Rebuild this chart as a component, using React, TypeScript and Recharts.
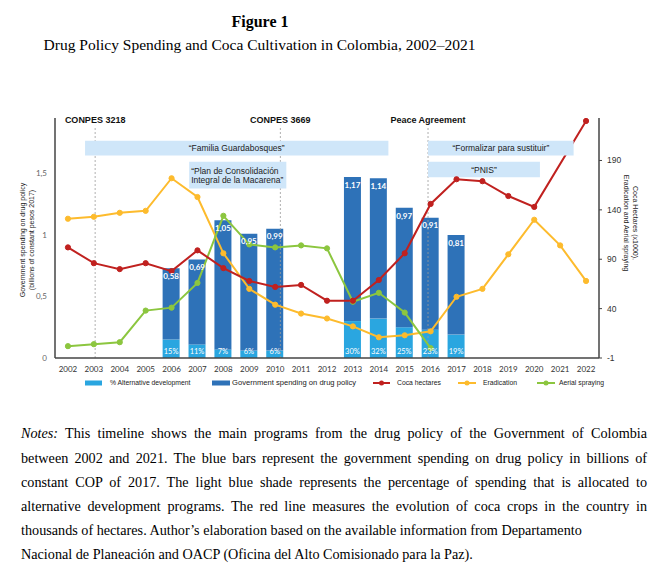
import React from 'react';
import {
  ComposedChart, Bar, Line, XAxis, YAxis, ReferenceArea, ReferenceLine, LabelList,
} from 'recharts';

const years = [2002, 2003, 2004, 2005, 2006, 2007, 2008, 2009, 2010, 2011, 2012, 2013, 2014, 2015, 2016, 2017, 2018, 2019, 2020, 2021, 2022];
const spending = [null, null, null, null, 0.58, 0.69, 1.05, 0.95, 0.99, null, null, 1.17, 1.14, 0.97, 0.91, 0.81, null, null, null, null, null];
const altPct = [null, null, null, null, 15, 11, 7, 6, 6, null, null, 30, 32, 25, 23, 19, null, null, null, null, null];
const coca = [102, 86, 80, 86, 78, 99, 81, 68, 62, 64, 48, 48, 69, 96, 146, 171, 169, 154, 143, null, 230];
const eradication = [131, 133, 137, 139, 172, 153, 96, 60, 44, 35, 30, 22, 11, 13, 17, 52, 60, 95, 130, 104, 68];
const aerial = [2, 4, 6, 38, 41, 66, 134, 105, 102, 104, 101, 47, 56, 36, 0, null, null, null, null, null, null];

const leftTicks = [0, 0.5, 1, 1.5];
const rightTicks = [-10, 40, 90, 140, 190];

const events = [
  { year: 2003.05, label: 'CONPES 3218' },
  { year: 2010.2, label: 'CONPES 3669' },
  { year: 2015.9, label: 'Peace Agreement' },
];

const programs = [
  { from: 2002.66, to: 2014.37, low: 195, high: 210, label: '“Familia Guardabosques”' },
  { from: 2015.9, to: 2021.52, low: 195, high: 210, label: '“Formalizar para sustituir”' },
  { from: 2015.9, to: 2020.22, low: 173, high: 188.7, label: '“PNIS”' },
];
const macarena = { from: 2006.68, to: 2010.43, low: 161.6, high: 188.7, lines: ['“Plan de Consolidación', 'Integral de la Macarena”'] };

const legendItems = [
  { label: '% Alternative development', color: '#2AA6E0', kind: 'bar' },
  { label: 'Government spending on drug policy', color: '#2E72B8', kind: 'bar' },
  { label: 'Coca hectares', color: '#C0211F', kind: 'line' },
  { label: 'Eradication', color: '#FDBB2D', kind: 'line' },
  { label: 'Aerial spraying', color: '#8CC63F', kind: 'line' },
];
const legendLayout = [
  { swatch: 85, text: 110, w: 17, fs: 6.8 },
  { swatch: 212, text: 232, w: 18, fs: 7.6 },
  { swatch: 373, text: 397, w: 17, fs: 6.8 },
  { swatch: 458, text: 483, w: 18, fs: 6.8 },
  { swatch: 537, text: 559, w: 18, fs: 6.8 },
];

const noteLines = [
  'This timeline shows the main programs from the drug policy of the Government of Colombia',
  'between 2002 and 2021. The blue bars represent the government spending on drug policy in billions of',
  'constant COP of 2017. The light blue shade represents the percentage of spending that is allocated to',
  'alternative development programs. The red line measures the evolution of coca crops in the country in',
  'thousands of hectares. Author’s elaboration based on the available information from Departamento',
  'Nacional de Planeación and OACP (Oficina del Alto Comisionado para la Paz).',
];

const data = years.map((y, i) => ({
  year: y,
  alt: altPct[i] == null ? null : (altPct[i] as number) / 100,
  altPct: altPct[i],
  spending: spending[i],
  coca: coca[i],
  eradication: eradication[i],
  aerial: aerial[i],
}));

const SANS = '"Liberation Sans", Arial, sans-serif';
const SERIF = '"Liberation Serif", "Times New Roman", serif';
const TICKF = 'Lato, "Liberation Sans", sans-serif';
const BOX = '#CFE6F9';

const MacarenaLabel = (props: any) => {
  const vb = props.viewBox || {};
  return (
    <text x={vb.x + 2} y={vb.y} fill="#222" fontSize={8.5} fontFamily={SANS}>
      <tspan x={vb.x + 2} dy={12}>{macarena.lines[0]}</tspan>
      <tspan x={vb.x + 2} dy={9.6}>{macarena.lines[1]}</tspan>
    </text>
  );
};

export default function App() {
  return (
    <div style={{ position: 'relative', width: 668, height: 565, background: '#fff', overflow: 'hidden' }}>
      <style>{`body{margin:0;}`}</style>
      <div style={{ position: 'absolute', left: 0, top: 12, width: 520, textAlign: 'center', fontFamily: SERIF, fontWeight: 700, fontSize: 16, lineHeight: '20px', color: '#000' }}>
        Figure 1
      </div>
      <div style={{ position: 'absolute', left: 0, top: 35, width: 519, textAlign: 'center', fontFamily: SERIF, fontSize: 15.5, lineHeight: '20px', color: '#000', whiteSpace: 'nowrap' }}>
        Drug Policy Spending and Coca Cultivation in Colombia, 2002–2021
      </div>

      <div style={{ position: 'absolute', left: 0, top: 100 }}>
        <ComposedChart width={668} height={283} data={data} margin={{ top: 18, right: 0, bottom: 0, left: 0 }}>
          <XAxis
            dataKey="year"
            type="number"
            domain={[2001.5, 2022.5]}
            ticks={years}
            interval={0}
            tickLine={false}
            axisLine={{ stroke: '#444', strokeWidth: 1.5 }}
            height={25}
            tick={{ fontSize: 8, fill: '#333', fontFamily: TICKF }}
          />
          <YAxis
            yAxisId="left"
            domain={[0, 1.95]}
            ticks={leftTicks}
            allowDataOverflow
            width={55}
            tickLine={false}
            axisLine={{ stroke: '#444', strokeWidth: 1.5 }}
            tickFormatter={(v: number) => String(v).replace('.', ',')}
            tick={{ fontSize: 8, fill: '#666', fontFamily: TICKF }}
          />
          <YAxis
            yAxisId="right"
            orientation="right"
            domain={[-10, 233]}
            ticks={rightTicks}
            allowDataOverflow
            width={69}
            tickSize={3}
            tickMargin={5}
            tickLine={{ stroke: '#444' }}
            axisLine={{ stroke: '#444', strokeWidth: 1.5 }}
            tickFormatter={(v: number) => (v === -10 ? '-1' : String(v))}
            tick={{ fontSize: 8.5, fill: '#333', fontFamily: SANS }}
          />
          <Bar yAxisId="left" dataKey="alt" stackId="s" fill="#2AA6E0" barSize={17} isAnimationActive={false}>
            <LabelList dataKey="altPct" position="insideBottom" offset={4} fill="#fff" fontSize={7.5} fontFamily={TICKF} formatter={(v: any) => (v == null ? '' : `${v}%`)} />
          </Bar>
          <Bar yAxisId="left" dataKey="spending" stackId="s" fill="#2E72B8" barSize={17} isAnimationActive={false}>
            <LabelList dataKey="spending" position="insideTop" offset={5} fill="#fff" fontSize={8} fontWeight={700} fontFamily={TICKF} formatter={(v: any) => (v == null ? '' : Number(v).toFixed(2).replace('.', ','))} />
          </Bar>
          {events.map((e) => (
            <ReferenceLine
              key={e.label}
              yAxisId="right"
              segment={[{ x: e.year, y: -10 }, { x: e.year, y: 225 }]}
              stroke="#9a9a9a"
              strokeDasharray="2 2"
              strokeWidth={0.8}
              label={{ value: e.label, position: 'top', offset: 3, fill: '#111', fontSize: 9, fontWeight: 700, fontFamily: SANS }}
            />
          ))}
          <Line yAxisId="right" dataKey="eradication" stroke="#FDBB2D" strokeWidth={2} dot={{ r: 2.6, fill: '#FDBB2D', stroke: '#FDBB2D', strokeWidth: 1 }} isAnimationActive={false} />
          <Line yAxisId="right" dataKey="aerial" stroke="#8CC63F" strokeWidth={2} dot={{ r: 2.6, fill: '#8CC63F', stroke: '#8CC63F', strokeWidth: 1 }} isAnimationActive={false} />
          <Line yAxisId="right" dataKey="coca" stroke="#C0211F" strokeWidth={2} connectNulls dot={{ r: 2.6, fill: '#C0211F', stroke: '#C0211F', strokeWidth: 1 }} isAnimationActive={false} />
          {programs.map((p) => (
            <ReferenceArea
              key={p.label}
              yAxisId="right"
              x1={p.from}
              x2={p.to}
              y1={p.low}
              y2={p.high}
              fill={BOX}
              fillOpacity={1}
              stroke="none"
              zIndex={450}
              label={{ value: p.label, position: 'center', fill: '#222', fontSize: 8.5, fontFamily: SANS }}
            />
          ))}
          <ReferenceArea
            yAxisId="right"
            x1={macarena.from}
            x2={macarena.to}
            y1={macarena.low}
            y2={macarena.high}
            fill={BOX}
            fillOpacity={1}
            stroke="none"
            zIndex={450}
            label={<MacarenaLabel />}
          />
        </ComposedChart>
      </div>

      <div style={{ position: 'absolute', left: 27, top: 240, transform: 'translate(-50%,-50%) rotate(-90deg)', whiteSpace: 'nowrap', textAlign: 'center', fontFamily: SANS, fontSize: 7, lineHeight: '8.5px', color: '#222' }}>
        Government spending on drug policy<br />(billions of constant pesos 2017)
      </div>
      <div style={{ position: 'absolute', left: 631.3, top: 223, transform: 'translate(-50%,-50%) rotate(90deg)', whiteSpace: 'nowrap', textAlign: 'center', fontFamily: SANS, fontSize: 7, lineHeight: '9px', color: '#222' }}>
        Coca Hectares (x1000),<br />Eradication and Aerial spraying
      </div>

      {legendItems.map((it, i) => {
        const L = legendLayout[i];
        return (
          <React.Fragment key={it.label}>
            <svg style={{ position: 'absolute', left: L.swatch, top: 378 }} width={L.w} height={10}>
              {it.kind === 'bar' ? (
                <rect x={0} y={2.5} width={L.w} height={5} fill={it.color} />
              ) : (
                <>
                  <line x1={0} y1={5} x2={L.w} y2={5} stroke={it.color} strokeWidth={2} />
                  <circle cx={L.w / 2} cy={5} r={2.5} fill={it.color} />
                </>
              )}
            </svg>
            <div style={{ position: 'absolute', left: L.text, top: 377, height: 12, lineHeight: '12px', fontFamily: SANS, fontSize: L.fs, color: '#222', whiteSpace: 'nowrap' }}>
              {it.label}
            </div>
          </React.Fragment>
        );
      })}

      <div style={{ position: 'absolute', left: 21, top: 421.4, width: 626, fontFamily: SERIF, fontSize: 14.2, lineHeight: '24.2px', color: '#000' }}>
        {noteLines.map((ln, i) => {
          const last = i >= noteLines.length - 2;
          return (
            <div key={i} style={{ textAlign: last ? 'left' : 'justify', textAlignLast: last ? 'left' : 'justify', whiteSpace: 'nowrap' } as any}>
              {i === 0 ? <><i>Notes:</i>{' '}</> : null}
              {ln}
            </div>
          );
        })}
      </div>
    </div>
  );
}
